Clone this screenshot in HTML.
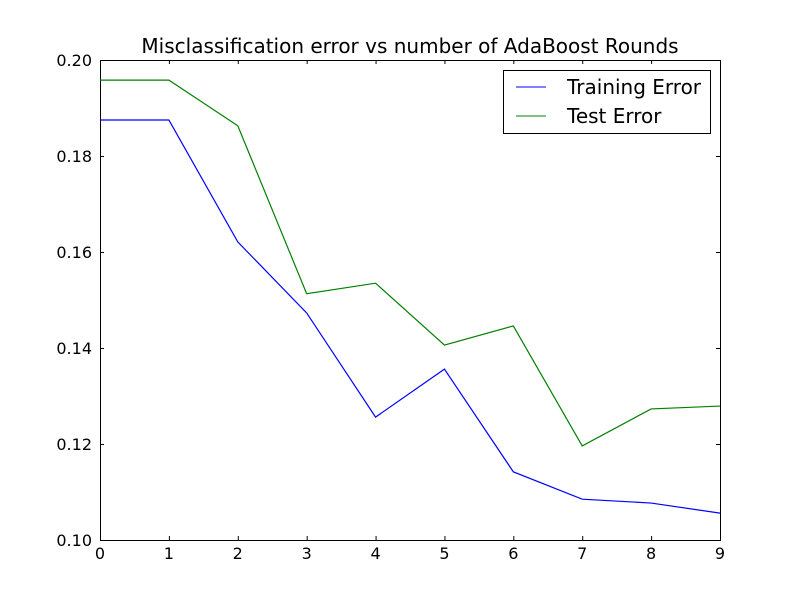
<!DOCTYPE html>
<html><head><meta charset="utf-8"><style>
body{margin:0;background:#fff;}
svg{display:block;font-family:"DejaVu Sans","Liberation Sans",sans-serif;}
</style></head><body>
<svg id="chart" width="800" height="600">
<rect width="800" height="600" fill="#fff"/>
<text x="410" y="53" text-anchor="middle" font-size="20">Misclassification error vs number of AdaBoost Rounds</text>
<g id="axes"></g>
<g id="series"></g>
<g>
<rect x="503.5" y="70.5" width="207" height="63" fill="#fff" stroke="#000"/>
<line x1="516" y1="87" x2="546" y2="87" stroke="#0000ff"/>
<text x="567" y="94" font-size="20">Training Error</text>
<line x1="516" y1="116" x2="546" y2="116" stroke="#008000"/>
<text x="567" y="123" font-size="20">Test Error</text>
</g>
</svg>
<script>
const rounds=[0,1,2,3,4,5,6,7,8,9];
const trainingError=[0.1875,0.1875,0.1621,0.1473,0.1256,0.1356,0.1142,0.1085,0.1077,0.1056];
const testError=[0.1958,0.1958,0.1863,0.1513,0.1535,0.1406,0.1446,0.1196,0.1273,0.1279];
const xTicks=[0,1,2,3,4,5,6,7,8,9];
const yTicks=[0.10,0.12,0.14,0.16,0.18,0.20];
const X0=100,X1=720,Y0=540,Y1=60;
const sx=v=>X0+(v-0)/(9-0)*(X1-X0);
const sy=v=>Y0-(v-0.10)/(0.10)*(Y0-Y1);
const NS="http://www.w3.org/2000/svg";
const axes=document.getElementById('axes');
function mk(tag,attrs,parent){const e=document.createElementNS(NS,tag);for(const k in attrs)e.setAttribute(k,attrs[k]);parent.appendChild(e);return e;}
xTicks.forEach(t=>{
 const x=sx(t)+0.5;
 const g=mk('g',{},axes);
 
 
 mk('line',{x1:x,y1:Y0,x2:x,y2:Y0-4,stroke:'#000'},g);
 mk('line',{x1:x,y1:Y1,x2:x,y2:Y1+4,stroke:'#000'},g);
 const tx=mk('text',{x:sx(t),y:Y0+19,'text-anchor':'middle','font-size':'16'},g);
 tx.textContent=t;
});
yTicks.forEach(t=>{
 const y=sy(t)+0.5;
 const g=mk('g',{},axes);
 
 
 mk('line',{x1:X0,y1:y,x2:X0+4,y2:y,stroke:'#000'},g);
 mk('line',{x1:X1,y1:y,x2:X1-4,y2:y,stroke:'#000'},g);
 const tx=mk('text',{x:X0-8,y:sy(t)+6,'text-anchor':'end','font-size':'16'},g);
 tx.textContent=t.toFixed(2);
});
const frame=mk('rect',{x:X0+0.5,y:Y1+0.5,width:X1-X0,height:Y0-Y1,fill:'none',stroke:'#000'},axes);


const series=document.getElementById('series');
function line(vals,color,name){
 const p=mk('polyline',{points:rounds.map((r,i)=>sx(r)+','+sy(vals[i])).join(' '),fill:'none',stroke:color,'stroke-width':'1.2'},series);
 
 
}
line(trainingError,'#0000ff','training-error-line');
line(testError,'#008000','test-error-line');
</script>
</body></html>
